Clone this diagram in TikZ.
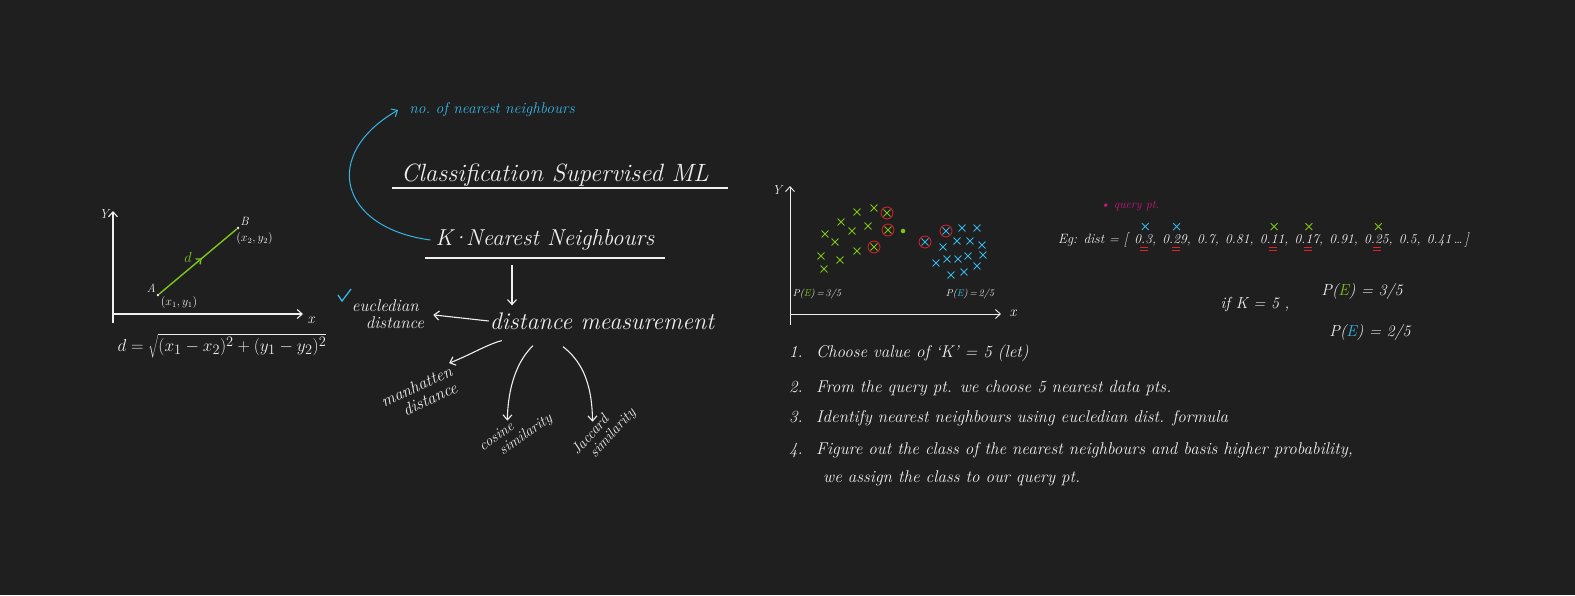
\documentclass[tikz,border=0pt]{standalone}
\usetikzlibrary{positioning,arrows.meta,shapes.misc,decorations.markings}
\definecolor{board}{HTML}{1F1F1F}
\definecolor{chalk}{HTML}{EFEFEF}
\definecolor{lime}{HTML}{7DC519}
\definecolor{sky}{HTML}{35B6E6}
\definecolor{redpen}{HTML}{E1222C}
\definecolor{berry}{HTML}{C4187C}
\newcommand{\fs}[1]{\fontsize{#1}{#1}\selectfont\itshape}

\begin{document}
\begin{tikzpicture}[x=1pt,y=-1pt,
  every node/.style={text=chalk,inner sep=1pt},
  pen/.style={draw=chalk,line width=1.1pt},
  barb/.style={-{Straight Barb[length=5pt,width=9pt]}},
  gx/.style={cross out,draw=lime,line width=0.9pt,minimum size=6pt,inner sep=0pt},
  bx/.style={cross out,draw=sky,line width=0.9pt,minimum size=6pt,inner sep=0pt},
  ring/.style={circle,draw=redpen,line width=0.8pt,minimum size=12pt,inner sep=0pt},
  uline/.style={draw=redpen,line width=1pt}]
\fill[board] (0,0) rectangle (1575,595);
\useasboundingbox (0,0) rectangle (1575,595);

% distance formula sketch
\coordinate (o1) at (113,314);
\draw[pen,barb] (113,323) -- (113,211);
\draw[pen,barb] (o1) -- (303,314);
\node[font=\fs{13}] (y1) at (104,214) {Y};
\node[font=\fs{15}] (x1) at (311,320) {x};
\node[circle,fill=chalk,inner sep=1pt] (pa) at (158,295) {};
\node[circle,fill=chalk,inner sep=1pt] (pb) at (238,228) {};
\draw[lime,line width=1.4pt,postaction={decorate},
  decoration={markings,mark=at position 0.55 with {\arrow{Straight Barb[length=4pt,width=7pt]}}}]
  (pa) -- (pb) node[pos=0.45,above left=1pt,text=lime,font=\fs{15}] (dl) {$d$};
\node[font=\fs{12},above left=0pt of pa] (la) {A};
\node[font=\fs{12},anchor=north west] (ca) at (pa.east) {$(x_1,y_1)$};
\node[font=\fs{12},above right=0pt of pb] (lb) {B};
\node[font=\fs{12},below right=2pt and -4pt of pb] (cb) {$(x_2,y_2)$};
\node[font=\fs{19}] (deq) at (222,346) {$d=\sqrt{(x_1-x_2)^2+(y_1-y_2)^2}$};

% knn mind map
\node[font=\fs{25}] (cls) at (555,175) {Classification Supervised ML};
\draw[pen] (392,188) -- (728,188);
\node[font=\fs{23}] (knn) at (545,240) {K\kern-2pt·\kern-2pt Nearest Neighbours};
\draw[pen] (425,258) -- (665,258);
\node[font=\fs{15.5},text=sky] (nno) at (492,110) {no.\ of nearest neighbours};
\draw[sky,line width=1pt,barb] ([xshift=-4pt]knn.west) .. controls (340,228) and (320,155) .. ([xshift=-10pt]nno.west);
\node[font=\fs{24}] (dm) at (602,321) {distance measurement};
\coordinate (kd) at (512,265);
\draw[pen,barb,shorten >=6pt] (kd) -- (kd |- dm.north);
\node[font=\fs{17},align=left] (eucl) at (388,314) {eucledian\\\hspace*{14pt}distance};
\draw[sky,line width=1.3pt] (338,295) -- (342,301) -- (351,289);
\draw[pen,barb,shorten >=8pt] (dm.west) -- (eucl.east);
\node[font=\fs{17},align=left,rotate=25] (manh) at (420,394) {manhatten\\\hspace*{16pt}distance};
\node[font=\fs{15},align=left,rotate=35] (cos) at (516,433) {cosine\\\hspace*{14pt}similarity};
\node[font=\fs{15},align=left,rotate=48] (jac) at (604,432) {Jaccard\\\hspace*{10pt}similarity};
\draw[pen,barb] ([shift={(13,10)}]dm.south west) .. controls (488,344) and (470,355) .. (manh.north east);
\draw[pen,barb] ([shift={(-69,15)}]dm.south) .. controls (518,360) and (508,385) .. (cos.north);
\draw[pen,barb] ([shift={(-39,16)}]dm.south) .. controls (580,360) and (592,380) .. (jac.north);

% scatter of two classes
\coordinate (o2) at (790,314);
\draw[pen,line width=0.9pt,barb] (790,325) -- (790,186);
\draw[pen,line width=0.9pt,barb] (o2) -- (1001,314);
\node[font=\fs{13}] (y2) at (777,190) {Y};
\node[font=\fs{15}] (x2) at (1013,313) {x};
\foreach \x/\y [count=\i] in {857/212,874/208,887/213,841/222,868/226,852/231,888/230,
  825/234,835/242,857/251,874/247,840/260,821/256,824/269}
  \node[gx] (g\i) at (\x,\y) {};
\foreach \x/\y [count=\i] in {946/231,925/242,962/228,977/228,957/241,970/241,982/245,943/247,
  947/259,958/259,968/256,983/255,936/263,977/266,951/275,964/272}
  \node[bx] (b\i) at (\x,\y) {};
\foreach \n in {g3,g7,g11,b1,b2} \node[ring] (r\n) at (\n) {};
\node[circle,fill=lime,inner sep=1.6pt] (qp) at (903,231) {};
\node[font=\fs{10}] (pe1) at (817,294) {P(\textcolor{lime}{E})\,=\,3/5};
\node[font=\fs{10}] (pe2) at (970,294) {P(\textcolor{sky}{E})\,=\,2/5};

% example distances
\node[font=\fs{12},text=berry] (qry) at (1130,206) {\textbullet\ query pt.};
\node[font=\fs{13.5},anchor=west] (d0) at (1057,240) {Eg: dist = \Large[};
\foreach \v [count=\i, remember=\i as \j (initially 0)] in {0.3,0.29,0.7,0.81,0.11,0.17,0.91,0.25,0.5}
  \node[font=\fs{13.5},right=4pt of d\j] (d\i) {\v,};
\node[font=\fs{13.5},right=4pt of d9] (d10) {0.41\,\dots\,\Large]};
\foreach \n in {1,2} \node[bx,above=3pt of d\n] (bm\n) {};
\foreach \n in {5,6,8} \node[gx,above=3pt of d\n] (gm\n) {};
\foreach \n in {1,2,5,6,8} {
  \draw[uline] ([xshift=-5pt,yshift=-1pt]d\n.south) -- ([xshift=3pt,yshift=-1pt]d\n.south);
  \draw[uline] ([xshift=-5pt,yshift=-4pt]d\n.south) -- ([xshift=3pt,yshift=-4pt]d\n.south);
}
\node[font=\fs{16}] (ifk) at (1255,304) {if K = 5 ,};
\node[font=\fs{16}] (pgr) at (1362,292) {P(\textcolor{lime}{E}) = 3/5};
\node[font=\fs{16}] (pbl) at (1370,333) {P(\textcolor{sky}{E}) = 2/5};

% steps
\node[font=\fs{17},anchor=west] (s1) at (788,353) {\makebox[27pt][l]{1.}Choose value of `K' = 5 (let)};
\node[font=\fs{17},anchor=west] (s2) at (788,388) {\makebox[27pt][l]{2.}From the query pt. we choose 5 nearest data pts.};
\node[font=\fs{17},anchor=west] (s3) at (788,418) {\makebox[27pt][l]{3.}Identify nearest neighbours using eucledian dist. formula};
\node[font=\fs{17},anchor=west] (s4) at (788,450) {\makebox[27pt][l]{4.}Figure out the class of the nearest neighbours and basis higher probability,};
\node[font=\fs{17},anchor=west] (s5) at (822,478) {we assign the class to our query pt.};
\end{tikzpicture}
\end{document}
